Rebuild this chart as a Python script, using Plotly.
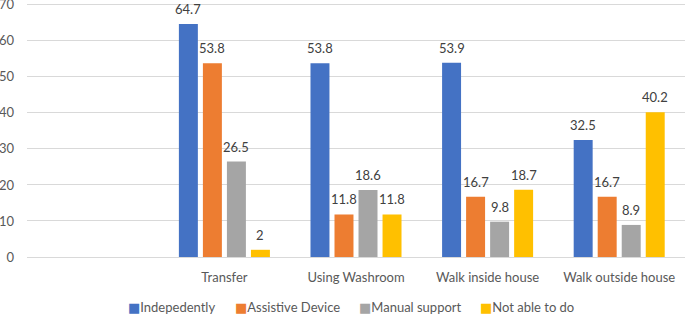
import plotly.graph_objects as go

categories = ["Transfer", "Using Washroom", "Walk inside house", "Walk outside house"]
axis_categories = [" "] + categories
series_names = ["Indepedently", "Assistive Device", "Manual support", "Not able to do"]
independently = [64.7, 53.8, 53.9, 32.5]
assistive_device = [53.8, 11.8, 16.7, 16.7]
manual_support = [26.5, 18.6, 9.8, 8.9]
not_able = [2, 11.8, 18.7, 40.2]
y_ticks = [0, 10, 20, 30, 40, 50, 60, 70]

series_values = [independently, assistive_device, manual_support, not_able]
colors = ["#4472C4", "#ED7D31", "#A5A5A5", "#FFC000"]

FONT = "Lato"
W, H = 685, 314
ML, MR, MT, MB = 27, 0, 3, 57
BARGAP, GROUPGAP = 0.27, 0.21
plot_w = W - ML - MR
plot_h = H - MT - MB
cat_w = plot_w / len(axis_categories)
slot = cat_w * (1 - BARGAP) / len(series_names)

fig = go.Figure()
annotations = []
for i, (name, vals, col) in enumerate(zip(series_names, series_values, colors)):
    fig.add_trace(go.Bar(
        x=categories, y=vals, name=name, marker_color=col,
        marker_line_width=0, showlegend=False,
    ))
    offset = (i - (len(series_names) - 1) / 2) * slot
    for c, v in zip(categories, vals):
        annotations.append(dict(
            x=c, y=v, xref="x", yref="y", text=f"{v:g}", showarrow=False,
            xshift=offset, yshift=15, yanchor="middle", xanchor="center",
            font=dict(family=FONT, size=13, color="#404040"),
        ))

# legend (built from series names and colours)
legend_px = [126, 233, 357, 478]
legend_y = (H - MB - 307) / plot_h
for name, col, px in zip(series_names, colors, legend_px):
    annotations.append(dict(
        x=(px - ML) / plot_w, y=legend_y, xref="paper", yref="paper", yanchor="middle",
        xanchor="left", showarrow=False,
        text=f'<span style="color:{col};font-size:13px;font-family:DejaVu Sans">■</span>{name}',
        font=dict(family=FONT, size=13, color="#595959"),
    ))

fig.update_layout(
    width=W, height=H,
    margin=dict(l=ML, r=MR, t=MT, b=MB),
    paper_bgcolor="white", plot_bgcolor="white",
    barmode="group", bargap=BARGAP, bargroupgap=GROUPGAP,
    font=dict(family=FONT, size=13, color="#595959"),
    showlegend=False,
    annotations=annotations,
    xaxis=dict(type="category", categoryorder="array", categoryarray=axis_categories,
               range=[-0.5, len(axis_categories) - 0.5], showgrid=False, showline=False, ticks="",
               automargin=False,
               tickfont=dict(family=FONT, size=13, color="#595959"),
               ticklabelstandoff=11),
    yaxis=dict(range=[0, 70.5], tickvals=y_ticks, showgrid=True, gridcolor="#D9D9D9",
               gridwidth=1, zeroline=True, zerolinecolor="#D9D9D9", zerolinewidth=1,
               showline=False, ticks="", ticklabelstandoff=12, automargin=False,
               ticklabeloverflow="allow",
               tickfont=dict(family=FONT, size=13, color="#595959")),
)
fig.write_html("out.html", config={"displayModeBar": False},
               post_script="document.body.style.margin='0';")
